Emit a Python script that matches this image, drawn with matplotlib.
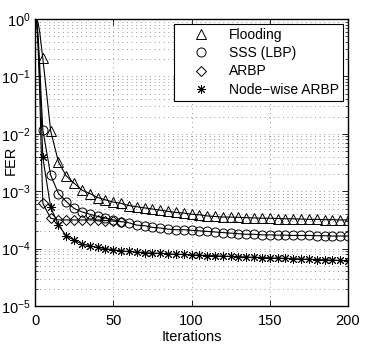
import matplotlib
matplotlib.use("Agg")
import matplotlib.pyplot as plt
import numpy as np
from matplotlib.ticker import LogLocator, NullFormatter

plt.rcParams['font.family'] = ['Liberation Sans', 'DejaVu Sans']
plt.rcParams['mathtext.fontset'] = 'custom'
plt.rcParams['mathtext.rm'] = 'Liberation Sans'
plt.rcParams['mathtext.it'] = 'Liberation Sans:italic'

# iterations
iters = [1, 2, 3, 4] + list(range(5, 205, 5))
iters_arbp = [1, 2, 3, 4, 5, 10, 15, 20, 25, 30, 35, 40, 45, 50, 55]

# log10(FER) values
flooding_log = [0.0, -0.07, -0.22, -0.46,
                -0.685, -1.95, -2.49, -2.735, -2.86, -2.98, -3.04, -3.11, -3.15, -3.19,
                -3.21, -3.25, -3.27, -3.29, -3.31, -3.33, -3.35, -3.37, -3.38, -3.40,
                -3.41, -3.43, -3.44, -3.45, -3.45, -3.455, -3.46, -3.465, -3.47, -3.47,
                -3.475, -3.48, -3.48, -3.485, -3.49, -3.49, -3.495, -3.495, -3.50, -3.50]
sss_log = [0.0, -0.3, -0.8, -1.4,
           -1.93, -2.72, -3.04, -3.18, -3.30, -3.36, -3.40, -3.44, -3.47, -3.50,
           -3.53, -3.55, -3.59, -3.60, -3.63, -3.64, -3.66, -3.67, -3.67, -3.68,
           -3.69, -3.70, -3.71, -3.72, -3.73, -3.74, -3.75, -3.75, -3.76, -3.76,
           -3.765, -3.765, -3.77, -3.77, -3.77, -3.775, -3.775, -3.78, -3.78, -3.78]
arbp_log = [0.0, -0.5, -1.3, -2.3,
            -3.21, -3.47, -3.50, -3.50, -3.50, -3.50, -3.50, -3.50, -3.51, -3.52, -3.53]
nodewise_log = [0.0, -0.4, -1.0, -1.7,
                -2.41, -3.28, -3.59, -3.78, -3.85, -3.92, -3.95, -3.98, -4.00, -4.02,
                -4.04, -4.05, -4.06, -4.07, -4.08, -4.08, -4.09, -4.10, -4.10, -4.11,
                -4.115, -4.12, -4.125, -4.13, -4.135, -4.14, -4.145, -4.15, -4.155, -4.16,
                -4.165, -4.17, -4.175, -4.18, -4.185, -4.19, -4.195, -4.20, -4.205, -4.21]

labels = ['Flooding', 'SSS (LBP)', 'ARBP', 'Node\u2212wise ARBP']

fig = plt.figure(figsize=(3.92, 3.56), dpi=100)
ax = fig.add_axes([0.0893, 0.1404, 0.7985, 0.806])

ms = 6.5
series = [
    (iters, flooding_log, '^', labels[0]),
    (iters, sss_log, 'o', labels[1]),
    (iters_arbp, arbp_log, 'D', labels[2]),
    (iters, nodewise_log, (8, 2, 0), labels[3]),
]
for x, ylog, mk, lab in series:
    y = 10.0 ** np.array(ylog)
    ax.plot(x, y, color='black', lw=0.8)
    msz = ms - 1.2 if mk == 'D' else ms
    ax.plot(x[4:], y[4:], linestyle='none', marker=mk, markersize=msz,
            markerfacecolor='none', markeredgecolor='black', markeredgewidth=0.7)
    ax.plot([], [], linestyle='none', marker=mk, markersize=msz, markerfacecolor='none',
            markeredgecolor='black', markeredgewidth=0.7, label=lab)

ax.set_yscale('log')
ax.set_xlim(0, 200)
ax.set_ylim(1e-5, 1)
ax.set_xticks([0, 50, 100, 150, 200])
ax.yaxis.set_major_locator(LogLocator(base=10, numticks=10))
ax.yaxis.set_minor_locator(LogLocator(base=10, subs=np.arange(2, 10), numticks=100))
ax.yaxis.set_minor_formatter(NullFormatter())

grid_style = dict(color='0.45', linestyle=(0, (1, 4.5)), lw=0.6)
ax.grid(True, which='major', axis='both', **grid_style)
ax.grid(True, which='minor', axis='y', **grid_style)

ax.tick_params(axis='both', which='both', direction='in', top=True, right=True,
               labelsize=10.5, colors='black')
ax.tick_params(which='major', length=4, width=0.6)
ax.tick_params(which='minor', length=2, width=0.5)
ax.tick_params(axis='x', pad=6)
ax.tick_params(axis='y', pad=3)
for s in ax.spines.values():
    s.set_linewidth(1.0)

ax.set_xlabel('Iterations', fontsize=10.5, labelpad=1)
ax.set_ylabel('FER', fontsize=10.5)
ax.yaxis.set_label_coords(-0.056, 0.509)

leg = ax.legend(loc='upper right', bbox_to_anchor=(0.983, 0.983), fontsize=10,
                frameon=True, fancybox=False, edgecolor='black', framealpha=1,
                handlelength=3.2, handletextpad=0.4, borderpad=0.3, labelspacing=0.3,
                borderaxespad=0.0)
leg.get_frame().set_linewidth(0.8)

fig.savefig('out.png', dpi=100)
